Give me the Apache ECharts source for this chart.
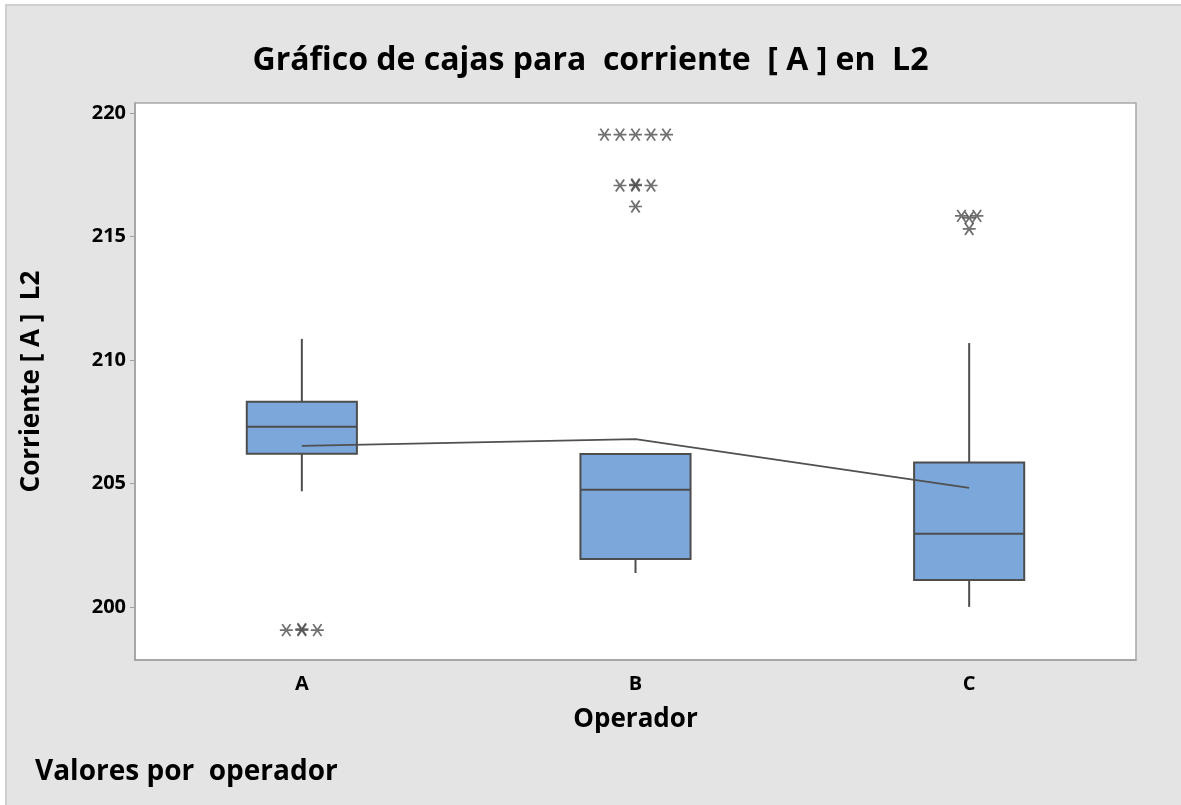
<!DOCTYPE html>
<html>
<head>
<meta charset="utf-8">
<script src="https://cdn.jsdelivr.net/npm/echarts@6/dist/echarts.min.js"></script>
<style>
html,body{margin:0;padding:0;background:#fff;}
#chart{width:1181px;height:805px;}
</style>
</head>
<body>
<div id="chart"></div>
<script>
// ---- data ----
const categories = ['A', 'B', 'C'];
const yTicks = [200, 205, 210, 215, 220];
const whiskerLow = [204.68, 201.37, 200.0];
const q1 = [206.2, 201.94, 201.09];
const medians = [207.29, 204.74, 202.96];
const q3 = [208.31, 206.19, 205.85];
const whiskerHigh = [210.85, 206.19, 210.68];
const means = [206.52, 206.79, 204.82];
const outliersA = [199.06, 199.06, 199.06, 199.1];
const outliersB = [219.12, 219.12, 219.12, 219.12, 219.12, 217.06, 217.06, 217.06, 217.1, 216.21];
const outliersC = [215.83, 215.83, 215.75, 215.3];

const outlierSets = [outliersA, outliersB, outliersC];

// spread tied outliers horizontally (Minitab style)
const spacing = 15.5;
const scatterData = [];
outlierSets.forEach((vals, ci) => {
  const groups = {};
  vals.forEach(v => { (groups[v] = groups[v] || []).push(v); });
  Object.keys(groups).forEach(k => {
    const g = groups[k];
    g.forEach((v, j) => {
      scatterData.push({ value: [ci, v], symbolOffset: [(j - (g.length - 1) / 2) * spacing, 0] });
    });
  });
});

const boxData = categories.map((c, i) => [i, whiskerLow[i], q1[i], medians[i], q3[i], whiskerHigh[i]]);

const chart = echarts.init(document.getElementById('chart'));
const FONT = "'Open Sans', 'Noto Sans', sans-serif";
const star = 'path://M0,6L14,6M2.5,0L11.5,12M11.5,0L2.5,12';

chart.setOption({
  backgroundColor: '#ffffff',
  animation: false,
  graphic: [
    { type: 'rect', z: -10, shape: { x: 6, y: 5, width: 1181, height: 805 },
      style: { fill: '#e4e4e4', stroke: '#cfcfcf', lineWidth: 2 } },
    { type: 'text', left: 35, top: 758, z: 10,
      style: { text: 'Valores por  operador', font: "bold 28px " + FONT, fill: '#000' } }
  ],
  title: {
    text: 'Gráfico de cajas para  corriente  [ A ] en  L2',
    left: 'center', top: 40,
    textStyle: { fontFamily: FONT, fontWeight: 'bold', fontSize: 32, color: '#000' }
  },
  grid: {
    left: 135, top: 103, right: 45, bottom: 145,
    show: true, backgroundColor: '#ffffff', borderColor: '#a8a8a8', borderWidth: 1.5
  },
  xAxis: {
    type: 'category', data: categories,
    name: 'Operador', nameLocation: 'middle', nameGap: 47,
    nameTextStyle: { fontFamily: FONT, fontWeight: 'bold', fontSize: 26, color: '#000' },
    axisLine: { lineStyle: { color: '#a0a0a0', width: 1.5 } },
    axisTick: { alignWithLabel: true, length: 5, lineStyle: { color: '#a0a0a0' } },
    axisLabel: { fontFamily: FONT, fontWeight: 'bold', fontSize: 20, color: '#000', margin: 14 },
    splitLine: { show: false }
  },
  yAxis: {
    type: 'value', min: 197.85, max: 220.4,
    name: 'Corriente [ A ]  L2', nameLocation: 'middle', nameGap: 90,
    nameTextStyle: { fontFamily: FONT, fontWeight: 'bold', fontSize: 26, color: '#000' },
    axisLine: { show: true, lineStyle: { color: '#a0a0a0', width: 1.5 } },
    axisTick: { show: true, length: 5, customValues: yTicks, lineStyle: { color: '#a0a0a0' } },
    axisLabel: { fontFamily: FONT, fontWeight: 'bold', fontSize: 20, color: '#000', margin: 9, customValues: yTicks },
    splitLine: { show: false }
  },
  series: [
    {
      type: 'custom',
      data: boxData,
      encode: { x: 0, y: [1, 2, 3, 4, 5] },
      z: 2,
      renderItem: function (params, api) {
        const i = api.value(0);
        const pLow = api.coord([i, api.value(1)]);
        const pQ1 = api.coord([i, api.value(2)]);
        const pMed = api.coord([i, api.value(3)]);
        const pQ3 = api.coord([i, api.value(4)]);
        const pHigh = api.coord([i, api.value(5)]);
        const w = api.size([1, 0])[0] * 0.33;
        const cx = pMed[0];
        const stroke = { stroke: '#4d4d4d', lineWidth: 2 };
        return {
          type: 'group',
          children: [
            { type: 'line', shape: { x1: cx, y1: pQ3[1], x2: cx, y2: pHigh[1] }, style: stroke },
            { type: 'line', shape: { x1: cx, y1: pQ1[1], x2: cx, y2: pLow[1] }, style: stroke },
            { type: 'rect', shape: { x: cx - w / 2, y: pQ3[1], width: w, height: pQ1[1] - pQ3[1] },
              style: { fill: '#7ba7da', stroke: '#4d4d4d', lineWidth: 2 } },
            { type: 'line', shape: { x1: cx - w / 2, y1: pMed[1], x2: cx + w / 2, y2: pMed[1] }, style: stroke }
          ]
        };
      }
    },
    {
      type: 'line',
      data: means,
      symbol: 'none',
      z: 5,
      lineStyle: { color: '#505050', width: 1.8 }
    },
    {
      type: 'scatter',
      data: scatterData,
      symbol: star,
      symbolSize: [13, 12],
      z: 6,
      itemStyle: { color: 'rgba(0,0,0,0)', borderColor: '#4d4d4d', borderWidth: 1.8 }
    }
  ]
});
</script>
</body>
</html>
